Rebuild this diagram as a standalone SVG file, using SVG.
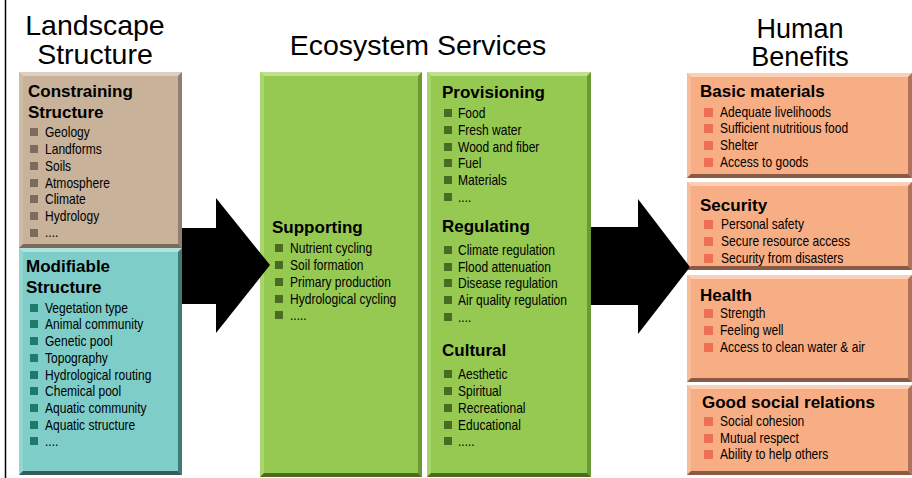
<svg xmlns="http://www.w3.org/2000/svg" width="912" height="478" viewBox="0 0 912 478">
<style>
text{font-family:"Liberation Sans",Arial,sans-serif;fill:#000}
.title{font-size:28.5px}
.title2{font-size:27px}
.head{font-size:17px;font-weight:bold}
.item{font-size:14px;fill:#000}
.tan .m{fill:#c8b29a}.tan .t{fill:#ddd0c0}.tan .l{fill:#d0bca6}.tan .r{fill:#8f7f6f}.tan .b{fill:#7a6a5a}.tan .bu{fill:#7d6b5f}
.teal .m{fill:#7ecdc8}.teal .t{fill:#b0e3df}.teal .l{fill:#92d6d1}.teal .r{fill:#3f7a76}.teal .b{fill:#3a5c5a}.teal .bu{fill:#1e7a6b}
.grn .m{fill:#96c952}.grn .t{fill:#c0e090}.grn .l{fill:#a8d66c}.grn .r{fill:#6a9a33}.grn .b{fill:#4c6a22}.grn .bu{fill:#4a6b22}
.org .m{fill:#f8ae85}.org .t{fill:#fcd0b6}.org .l{fill:#f9bc9a}.org .r{fill:#b0735a}.org .b{fill:#8a5a45}.org .bu{fill:#ee6f52}
.arrow{fill:#000}
</style>
<line x1="5.5" y1="0" x2="5.5" y2="478" stroke="#000" stroke-width="1.5"/>
<text class="title" x="95" y="35" text-anchor="middle">Landscape</text>
<text class="title" x="95" y="64" text-anchor="middle">Structure</text>
<text class="title" x="418" y="55" text-anchor="middle">Ecosystem Services</text>
<text class="title2" x="800" y="38" text-anchor="middle">Human</text>
<text class="title2" x="800" y="66" text-anchor="middle">Benefits</text>

<!-- Constraining Structure -->
<g id="constraining" class="tan">
<rect class="m" x="19" y="72" width="163" height="176"/>
<polygon class="t" points="19,72 182,72 178,76 23,76"/>
<polygon class="l" points="19,72 23,76 23,244 19,248"/>
<polygon class="r" points="182,72 182,248 178,244 178,76"/>
<polygon class="b" points="19,248 182,248 178,244 23,244"/>
<text class="head" x="28" y="97">Constraining</text>
<text class="head" x="28" y="118">Structure</text>
<rect class="bu" x="30" y="128" width="8" height="8"/>
<rect class="bu" x="30" y="145" width="8" height="8"/>
<rect class="bu" x="30" y="162" width="8" height="8"/>
<rect class="bu" x="30" y="179" width="8" height="8"/>
<rect class="bu" x="30" y="195" width="8" height="8"/>
<rect class="bu" x="30" y="212" width="8" height="8"/>
<rect class="bu" x="30" y="229" width="8" height="8"/>
<g transform="translate(45 0) scale(0.86 1)">
<text class="item" x="0" y="137">Geology</text>
<text class="item" x="0" y="154">Landforms</text>
<text class="item" x="0" y="171">Soils</text>
<text class="item" x="0" y="188">Atmosphere</text>
<text class="item" x="0" y="204">Climate</text>
<text class="item" x="0" y="221">Hydrology</text>
<text class="item" x="0" y="237">....</text>
</g>
</g>

<!-- Modifiable Structure -->
<g id="modifiable" class="teal">
<rect class="m" x="19" y="248" width="163" height="227"/>
<polygon class="t" points="19,248 182,248 178,252 23,252"/>
<polygon class="l" points="19,248 23,252 23,471 19,475"/>
<polygon class="r" points="182,248 182,475 178,471 178,252"/>
<polygon class="b" points="19,475 182,475 178,471 23,471"/>
<text class="head" x="26" y="272">Modifiable</text>
<text class="head" x="26" y="293">Structure</text>
<rect class="bu" x="30" y="304" width="8" height="8"/>
<rect class="bu" x="30" y="320" width="8" height="8"/>
<rect class="bu" x="30" y="337" width="8" height="8"/>
<rect class="bu" x="30" y="354" width="8" height="8"/>
<rect class="bu" x="30" y="371" width="8" height="8"/>
<rect class="bu" x="30" y="387" width="8" height="8"/>
<rect class="bu" x="30" y="404" width="8" height="8"/>
<rect class="bu" x="30" y="421" width="8" height="8"/>
<rect class="bu" x="30" y="437" width="8" height="8"/>
<g transform="translate(45 0) scale(0.86 1)">
<text class="item" x="0" y="313">Vegetation type</text>
<text class="item" x="0" y="329">Animal community</text>
<text class="item" x="0" y="346">Genetic pool</text>
<text class="item" x="0" y="363">Topography</text>
<text class="item" x="0" y="380">Hydrological routing</text>
<text class="item" x="0" y="396">Chemical pool</text>
<text class="item" x="0" y="413">Aquatic community</text>
<text class="item" x="0" y="430">Aquatic structure</text>
<text class="item" x="0" y="446">....</text>
</g>
</g>

<!-- Supporting -->
<g id="supporting" class="grn">
<rect class="m" x="260" y="72" width="162" height="405"/>
<polygon class="t" points="260,72 422,72 418,76 264,76"/>
<polygon class="l" points="260,72 264,76 264,473 260,477"/>
<polygon class="r" points="422,72 422,477 418,473 418,76"/>
<polygon class="b" points="260,477 422,477 418,473 264,473"/>
<text class="head" x="272" y="233">Supporting</text>
<rect class="bu" x="275" y="244" width="8" height="8"/>
<rect class="bu" x="275" y="261" width="8" height="8"/>
<rect class="bu" x="275" y="278" width="8" height="8"/>
<rect class="bu" x="275" y="295" width="8" height="8"/>
<rect class="bu" x="275" y="311" width="8" height="8"/>
<g transform="translate(290 0) scale(0.86 1)">
<text class="item" x="0" y="253">Nutrient cycling</text>
<text class="item" x="0" y="270">Soil formation</text>
<text class="item" x="0" y="287">Primary production</text>
<text class="item" x="0" y="304">Hydrological cycling</text>
<text class="item" x="0" y="320">.....</text>
</g>
</g>

<!-- Provisioning / Regulating / Cultural -->
<g id="services" class="grn">
<rect class="m" x="427" y="72" width="164" height="405"/>
<polygon class="t" points="427,72 591,72 587,76 431,76"/>
<polygon class="l" points="427,72 431,76 431,473 427,477"/>
<polygon class="r" points="591,72 591,477 587,473 587,76"/>
<polygon class="b" points="427,477 591,477 587,473 431,473"/>
<text class="head" x="442" y="98">Provisioning</text>
<rect class="bu" x="444" y="109" width="8" height="8"/>
<rect class="bu" x="444" y="126" width="8" height="8"/>
<rect class="bu" x="444" y="143" width="8" height="8"/>
<rect class="bu" x="444" y="159" width="8" height="8"/>
<rect class="bu" x="444" y="176" width="8" height="8"/>
<rect class="bu" x="444" y="193" width="8" height="8"/>
<text class="head" x="442" y="232">Regulating</text>
<rect class="bu" x="444" y="246" width="8" height="8"/>
<rect class="bu" x="444" y="263" width="8" height="8"/>
<rect class="bu" x="444" y="279" width="8" height="8"/>
<rect class="bu" x="444" y="296" width="8" height="8"/>
<rect class="bu" x="444" y="313" width="8" height="8"/>
<text class="head" x="442" y="356">Cultural</text>
<rect class="bu" x="444" y="370" width="8" height="8"/>
<rect class="bu" x="444" y="387" width="8" height="8"/>
<rect class="bu" x="444" y="404" width="8" height="8"/>
<rect class="bu" x="444" y="421" width="8" height="8"/>
<rect class="bu" x="444" y="437" width="8" height="8"/>
<g transform="translate(458 0) scale(0.86 1)">
<text class="item" x="0" y="118">Food</text>
<text class="item" x="0" y="135">Fresh water</text>
<text class="item" x="0" y="152">Wood and fiber</text>
<text class="item" x="0" y="168">Fuel</text>
<text class="item" x="0" y="185">Materials</text>
<text class="item" x="0" y="202">....</text>
<text class="item" x="0" y="255">Climate regulation</text>
<text class="item" x="0" y="272">Flood attenuation</text>
<text class="item" x="0" y="288">Disease regulation</text>
<text class="item" x="0" y="305">Air quality regulation</text>
<text class="item" x="0" y="322">....</text>
<text class="item" x="0" y="379">Aesthetic</text>
<text class="item" x="0" y="396">Spiritual</text>
<text class="item" x="0" y="413">Recreational</text>
<text class="item" x="0" y="430">Educational</text>
<text class="item" x="0" y="446">.....</text>
</g>
</g>

<!-- Basic materials -->
<g id="basic" class="org">
<rect class="m" x="687" y="73" width="225" height="105"/>
<polygon class="t" points="687,73 912,73 908,77 691,77"/>
<polygon class="l" points="687,73 691,77 691,174 687,178"/>
<polygon class="r" points="912,73 912,178 908,174 908,77"/>
<polygon class="b" points="687,178 912,178 908,174 691,174"/>
<text class="head" x="700" y="97">Basic materials</text>
<rect class="bu" x="704" y="108" width="9" height="9"/>
<rect class="bu" x="704" y="124" width="9" height="9"/>
<rect class="bu" x="704" y="141" width="9" height="9"/>
<rect class="bu" x="704" y="158" width="9" height="9"/>
<g transform="translate(720 0) scale(0.86 1)">
<text class="item" x="0" y="117">Adequate livelihoods</text>
<text class="item" x="0" y="133">Sufficient nutritious food</text>
<text class="item" x="0" y="150">Shelter</text>
<text class="item" x="0" y="167">Access to goods</text>
</g>
</g>

<!-- Security -->
<g id="security" class="org">
<rect class="m" x="687" y="182" width="225" height="88"/>
<polygon class="t" points="687,182 912,182 908,186 691,186"/>
<polygon class="l" points="687,182 691,186 691,266 687,270"/>
<polygon class="r" points="912,182 912,270 908,266 908,186"/>
<polygon class="b" points="687,270 912,270 908,266 691,266"/>
<text class="head" x="700" y="211">Security</text>
<rect class="bu" x="704" y="220" width="9" height="9"/>
<rect class="bu" x="704" y="237" width="9" height="9"/>
<rect class="bu" x="704" y="254" width="9" height="9"/>
<g transform="translate(721 0) scale(0.86 1)">
<text class="item" x="0" y="229">Personal safety</text>
<text class="item" x="0" y="246">Secure resource access</text>
<text class="item" x="0" y="263">Security from disasters</text>
</g>
</g>

<!-- Health -->
<g id="health" class="org">
<rect class="m" x="687" y="275" width="225" height="107"/>
<polygon class="t" points="687,275 912,275 908,279 691,279"/>
<polygon class="l" points="687,275 691,279 691,378 687,382"/>
<polygon class="r" points="912,275 912,382 908,378 908,279"/>
<polygon class="b" points="687,382 912,382 908,378 691,378"/>
<text class="head" x="700" y="301">Health</text>
<rect class="bu" x="704" y="309" width="9" height="9"/>
<rect class="bu" x="704" y="326" width="9" height="9"/>
<rect class="bu" x="704" y="343" width="9" height="9"/>
<g transform="translate(720 0) scale(0.86 1)">
<text class="item" x="0" y="318">Strength</text>
<text class="item" x="0" y="335">Feeling well</text>
<text class="item" x="0" y="352">Access to clean water &amp; air</text>
</g>
</g>

<!-- Good social relations -->
<g id="social" class="org">
<rect class="m" x="687" y="385" width="225" height="90"/>
<polygon class="t" points="687,385 912,385 908,389 691,389"/>
<polygon class="l" points="687,385 691,389 691,471 687,475"/>
<polygon class="r" points="912,385 912,475 908,471 908,389"/>
<polygon class="b" points="687,475 912,475 908,471 691,471"/>
<text class="head" x="702" y="408">Good social relations</text>
<rect class="bu" x="704" y="417" width="9" height="9"/>
<rect class="bu" x="704" y="434" width="9" height="9"/>
<rect class="bu" x="704" y="450" width="9" height="9"/>
<g transform="translate(720 0) scale(0.86 1)">
<text class="item" x="0" y="426">Social cohesion</text>
<text class="item" x="0" y="443">Mutual respect</text>
<text class="item" x="0" y="459">Ability to help others</text>
</g>
</g>

<!-- Connectors -->
<g id="connectors">
<polygon class="arrow" points="182,228 216,228 216,198 270,265 216,333 216,304 182,304"/>
<polygon class="arrow" points="591,227 638,227 638,199 690,267 638,334 638,305 591,305"/>
</g>
</svg>
